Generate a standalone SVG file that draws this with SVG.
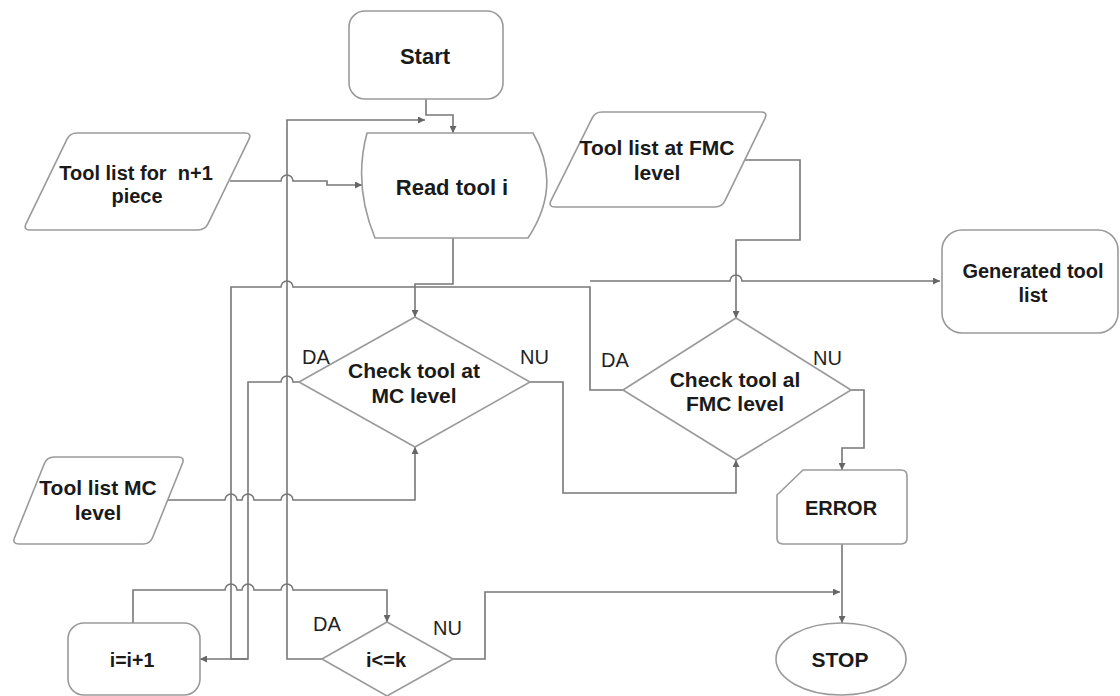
<svg xmlns="http://www.w3.org/2000/svg" width="1120" height="696" viewBox="0 0 1120 696">
<defs>
<style>
.shape{fill:#fff;stroke:#9a9a9a;stroke-width:1.6;stroke-linejoin:round}
.conn{fill:none;stroke:#777;stroke-width:1.6}
.t{font-family:"Liberation Sans",Arial,sans-serif;font-weight:bold;fill:#1a1a1a;text-anchor:middle}
.lbl{font-family:"Liberation Sans",Arial,sans-serif;font-size:20px;fill:#222}
</style>
<marker id="arr" viewBox="0 0 10 10" refX="10" refY="5" markerWidth="9" markerHeight="7" markerUnits="userSpaceOnUse" orient="auto">
<path d="M0,0 L10,5 L0,10 Z" fill="#666"/>
</marker>
</defs>
<rect width="1120" height="696" fill="#fff"/>

<g id="connectors">
<path class="conn" d="M426,99 V115 H453 V133" marker-end="url(#arr)"/>
<path class="conn" d="M230,181 H281 A6,6 0 0 1 293,181 H327 V185 H362" marker-end="url(#arr)"/>
<path class="conn" d="M322,659 H287 V120 H425" marker-end="url(#arr)"/>
<path class="conn" d="M453,238 V284 H415 V317" marker-end="url(#arr)"/>
<path class="conn" d="M299,382 H293 A6,6 0 0 0 281,382 H248 V659 H200" marker-end="url(#arr)"/>
<path class="conn" d="M623,390 H590 V287 H293 A6,6 0 0 0 281,287 H231 V659 H248"/>
<path class="conn" d="M590,281 H730 A6,6 0 0 1 742,281 H940" marker-end="url(#arr)"/>
<path class="conn" d="M745,160 H800 V240 H736 V318" marker-end="url(#arr)"/>
<path class="conn" d="M530,382 H563 V493 H736 V460" marker-end="url(#arr)"/>
<path class="conn" d="M168,500 H225 A6,6 0 0 1 237,500 H242 A6,6 0 0 1 254,500 H281 A6,6 0 0 1 293,500 H415 V447" marker-end="url(#arr)"/>
<path class="conn" d="M133,623 V590 H225 A6,6 0 0 1 237,590 H242 A6,6 0 0 1 254,590 H281 A6,6 0 0 1 293,590 H387 V622" marker-end="url(#arr)"/>
<path class="conn" d="M453,659 H485 V592 H840" marker-end="url(#arr)"/>
<path class="conn" d="M851,390 H864 V448 H842 V470" marker-end="url(#arr)"/>
<path class="conn" d="M842,544 V623" marker-end="url(#arr)"/>
</g>

<g id="start">
<rect class="shape" x="349" y="11" width="154" height="88" rx="16"/>
<text class="t" x="425" y="64" font-size="22">Start</text>
</g>

<g id="read-tool">
<path class="shape" d="M367,133 L533,133 Q563,185 528,238 L375,238 Q353,185 367,133 Z"/>
<text class="t" x="452" y="195" font-size="22">Read tool i</text>
</g>

<g id="tool-list-n1">
<path class="shape" d="M77,133 L245,133 Q252,133 248.9,139.3 L208.1,223.7 Q205,230 198,230 L30,230 Q23,230 26.1,223.7 L66.9,139.3 Q70,133 77,133 Z"/>
<text class="t" font-size="20" xml:space="preserve"><tspan x="136" y="180">Tool list for  n+1</tspan><tspan x="137" y="203">piece</tspan></text>
</g>

<g id="tool-list-fmc">
<path class="shape" d="M602,112 L761,112 Q768,112 765,118.3 L725,200.7 Q722,207 715,207 L555,207 Q548,207 551,200.7 L592,118.3 Q595,112 602,112 Z"/>
<text class="t" font-size="21"><tspan x="657" y="155">Tool list at FMC</tspan><tspan x="657" y="180">level</tspan></text>
</g>

<g id="generated-list">
<rect class="shape" x="942" y="230" width="176" height="103" rx="20"/>
<text class="t" font-size="20"><tspan x="1033" y="278">Generated tool</tspan><tspan x="1033" y="302">list</tspan></text>
</g>

<g id="check-mc">
<polygon class="shape" points="415,317 530,382 415,447 299,382"/>
<text class="t" font-size="21"><tspan x="414" y="378">Check tool at</tspan><tspan x="414" y="403">MC level</tspan></text>
<text class="lbl" x="302" y="364">DA</text>
<text class="lbl" x="520" y="364">NU</text>
</g>

<g id="check-fmc">
<polygon class="shape" points="736,318 851,390 736,460 623,390"/>
<text class="t" font-size="21"><tspan x="735" y="387">Check tool al</tspan><tspan x="735" y="411">FMC level</tspan></text>
<text class="lbl" x="601" y="367">DA</text>
<text class="lbl" x="813" y="365">NU</text>
</g>

<g id="tool-list-mc">
<path class="shape" d="M54,457 L178,457 Q185,457 182.4,463.5 L152.6,537.5 Q150,544 143,544 L19,544 Q12,544 14.6,537.5 L44.4,463.5 Q47,457 54,457 Z"/>
<text class="t" font-size="21"><tspan x="98" y="495">Tool list MC</tspan><tspan x="98" y="520">level</tspan></text>
</g>

<g id="error">
<path class="shape" d="M803,470 L901,470 Q907,470 907,476 L907,538 Q907,544 901,544 L783,544 Q777,544 777,538 L777,495 Z"/>
<text class="t" x="841" y="515" font-size="20">ERROR</text>
</g>

<g id="stop">
<ellipse class="shape" cx="841" cy="659" rx="65" ry="36"/>
<text class="t" x="840" y="667" font-size="21">STOP</text>
</g>

<g id="increment">
<rect class="shape" x="68" y="623" width="132" height="72" rx="16"/>
<text class="t" x="132" y="667" font-size="19.5">i=i+1</text>
</g>

<g id="check-k">
<polygon class="shape" points="387,622 453,659 387,696 322,659"/>
<text class="t" x="386" y="667" font-size="20">i&lt;=k</text>
<text class="lbl" x="313" y="631">DA</text>
<text class="lbl" x="433" y="635">NU</text>
</g>
</svg>
